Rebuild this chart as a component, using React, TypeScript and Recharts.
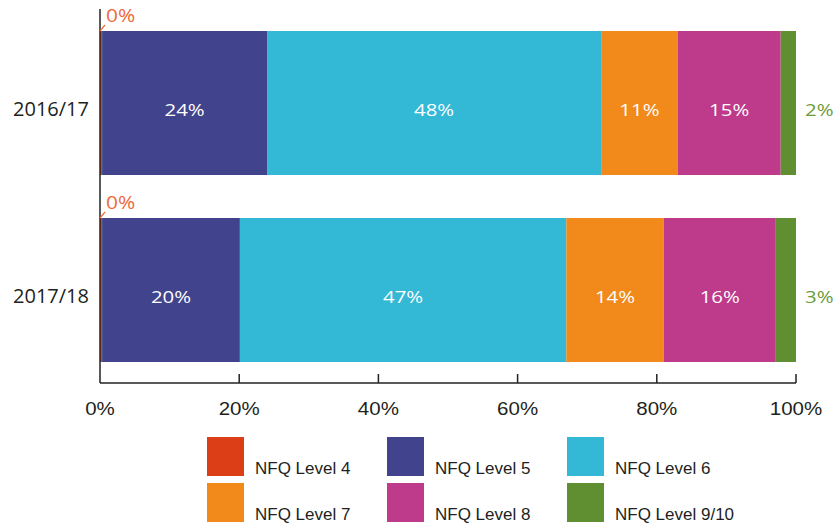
import React from "react";
import { BarChart, Bar, XAxis, YAxis, LabelList, Rectangle } from "recharts";

const categories = ["2016/17", "2017/18"];
const level4 = [0.3, 0.3];
const level5 = [23.7, 19.8];
const level6 = [48, 46.9];
const level7 = [11, 14];
const level8 = [14.8, 16.1];
const level9 = [2.2, 2.9];
const xTicks = [0, 20, 40, 60, 80, 100];

const series = [
  { key: "l4", name: "NFQ Level 4", color: "#DC3F17", values: level4 },
  { key: "l5", name: "NFQ Level 5", color: "#41448C", values: level5 },
  { key: "l6", name: "NFQ Level 6", color: "#33B8D6", values: level6 },
  { key: "l7", name: "NFQ Level 7", color: "#F18A1A", values: level7 },
  { key: "l8", name: "NFQ Level 8", color: "#BE3A8B", values: level8 },
  { key: "l9", name: "NFQ Level 9/10", color: "#5F8F30", values: level9 },
];

const data = categories.map((name, i) => {
  const row: any = { name };
  series.forEach((s) => (row[s.key] = s.values[i]));
  return row;
});

const labelFont = "'Open Sans', sans-serif";
const tickFont = "'Liberation Sans', Arial, sans-serif";

const pct = (v: any) => `${Math.round(Number(v))}%`;

// text drawn a bit wider than the font, like the source picture
const Stretch = ({ x, y, sx = 1.2, anchor = "middle", fill, size, font, children }: any) => (
  <g transform={`translate(${x},${y}) scale(${sx},1)`}>
    <text x={0} y={0} textAnchor={anchor} dominantBaseline="central" fill={fill} fontSize={size} fontFamily={font}>
      {children}
    </text>
  </g>
);

const InnerLabel = (props: any) => {
  const { x, y, width, height, value } = props;
  return (
    <Stretch x={x + width / 2} y={y + height / 2 + 6} fill="#fff" size={17} font={labelFont}>
      {pct(value)}
    </Stretch>
  );
};

// tiny level 4 slice: callout above the bar
const ZeroLabel = (props: any) => {
  const { x, y, value } = props;
  return (
    <g>
      <line x1={x} y1={y} x2={x + 5} y2={y - 6} stroke="#EE6A3C" strokeWidth={1.2} />
      <Stretch x={x + 6} y={y - 16} sx={1.1} anchor="start" fill="#EE6A3C" size={19} font={labelFont}>
        {pct(value)}
      </Stretch>
    </g>
  );
};

const OuterLabel = (props: any) => {
  const { x, y, width, height, value } = props;
  return (
    <Stretch x={x + width + 9} y={y + height / 2 + 6} anchor="start" fill="#6A9B3A" size={17} font={labelFont}>
      {pct(value)}
    </Stretch>
  );
};

// level 4 slice drawn over the axis line so the sliver stays visible
const SliverShape = (props: any) => (
  <Rectangle {...props} x={props.x - 1} width={props.width + 1} />
);

const XTick = (props: any) => {
  const { x, y, payload } = props;
  const v = payload.value;
  return (
    <g>
      {v > 0 && <line x1={x} y1={y} x2={x} y2={y - 9} stroke="#222" strokeWidth={1.5} />}
      <Stretch x={x} y={y + 26} sx={1.14} fill="#231F20" size={18} font={tickFont}>
        {`${v}%`}
      </Stretch>
    </g>
  );
};

const YTick = (props: any) => {
  const { x, y, payload } = props;
  return (
    <text
      x={x}
      y={y + 6}
      textAnchor="end"
      dominantBaseline="central"
      fill="#231F20"
      fontSize={20}
      fontFamily={labelFont}
    >
      {payload.value}
    </text>
  );
};

const legendCols = [207, 387, 567];
const legendRows = [437, 483];

export default function App() {
  return (
    <div style={{ position: "absolute", left: 0, top: 0, width: 838, height: 529, background: "#fff" }}>
      <BarChart
        width={838}
        height={529}
        data={data}
        layout="vertical"
        margin={{ top: 9, right: 42, bottom: 116, left: 0 }}
        barCategoryGap={0}
      >
        <XAxis
          type="number"
          domain={[0, 100]}
          ticks={xTicks}
          allowDataOverflow
          axisLine={{ stroke: "#222", strokeWidth: 1.5 }}
          tickLine={false}
          tickSize={0}
          tickMargin={0}
          tick={<XTick />}
          height={30}
        />
        <YAxis
          type="category"
          dataKey="name"
          width={100}
          axisLine={{ stroke: "#222", strokeWidth: 1.5 }}
          tickLine={false}
          tickSize={0}
          tickMargin={11}
          tick={<YTick />}
        />
        {series.map((s) => (
          <Bar
            key={s.key}
            dataKey={s.key}
            name={s.name}
            stackId="a"
            fill={s.color}
            barSize={144}
            shape={s.key === "l4" ? <SliverShape /> : undefined}
            isAnimationActive={false}
          >
            <LabelList
              dataKey={s.key}
              content={s.key === "l4" ? <ZeroLabel /> : s.key === "l9" ? <OuterLabel /> : <InnerLabel />}
            />
          </Bar>
        ))}
      </BarChart>
      {series.map((s, i) => {
        const left = legendCols[i % 3];
        const top = legendRows[Math.floor(i / 3)];
        return (
          <div key={s.key}>
            <div style={{ position: "absolute", left, top, width: 37, height: 39, background: s.color }} />
            <div
              style={{
                position: "absolute",
                left: left + 48,
                top: top + 22,
                fontFamily: tickFont,
                fontSize: 17,
                color: "#231F20",
                whiteSpace: "nowrap",
                lineHeight: "20px",
              }}
            >
              {s.name}
            </div>
          </div>
        );
      })}
    </div>
  );
}
